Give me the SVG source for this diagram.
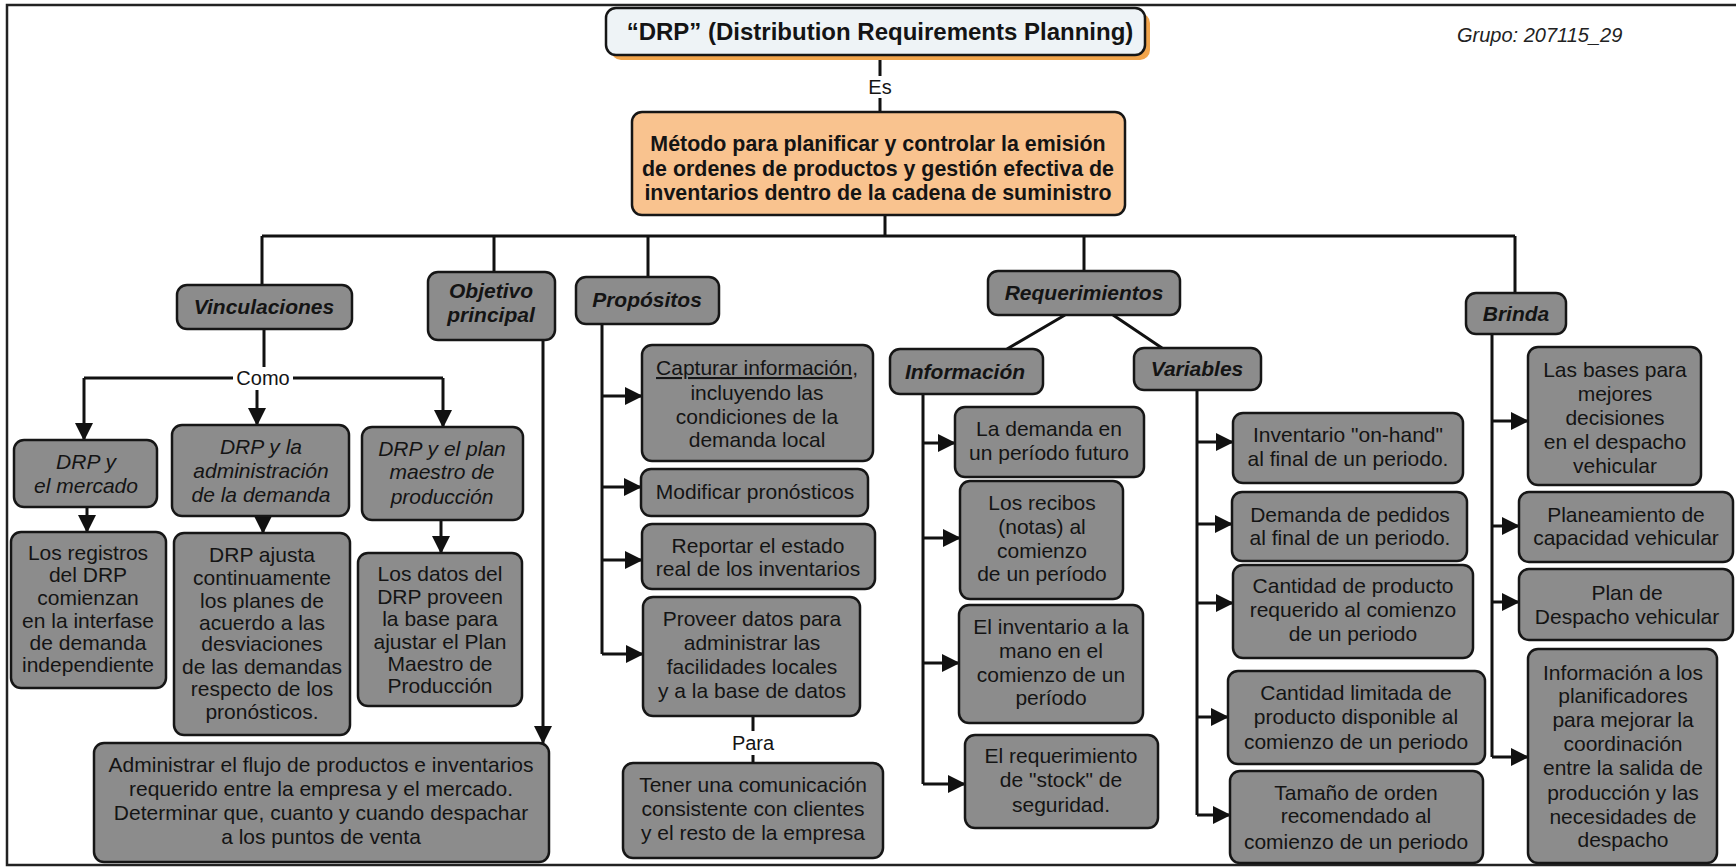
<svg xmlns="http://www.w3.org/2000/svg" width="1736" height="867" viewBox="0 0 1736 867">
  <style>
    .box { fill:#8c8c8c; stroke:#161616; stroke-width:2.5; }
    .t { font-family:"Liberation Sans", Arial, sans-serif; font-size:21px; fill:#141414; text-anchor:middle; }
    .h { font-weight:bold; font-style:italic; }
    .i { font-style:italic; }
    .m { font-weight:bold; font-size:21.4px; }
    .lbl { font-family:"Liberation Sans", Arial, sans-serif; font-size:20px; fill:#141414; text-anchor:middle; }
    .c { fill:none; stroke:#111; stroke-width:3; }
    .a { marker-end:url(#arr); }
  </style>
  <defs>
    <marker id="arr" viewBox="0 0 18 18" refX="17" refY="9" markerWidth="18" markerHeight="18" markerUnits="userSpaceOnUse" orient="auto">
      <path d="M0,0 L18,9 L0,18 z" fill="#111"/>
    </marker>
  </defs>

  <rect width="1736" height="867" fill="#fff"/>
  <!-- page frame -->
  <rect x="7" y="5" width="1740" height="860" fill="none" stroke="#222" stroke-width="2.5"/>

  <!-- connectors -->
  <g id="connectors">
    <path class="c" d="M880,60 V76 M880,98 V112"/>
    <path class="c" d="M885,215 V236 M262,236 H1515 M262,236 V285 M494,236 V272 M648,236 V277 M1084,236 V271 M1515,236 V293"/>
    <!-- Vinculaciones -->
    <path class="c" d="M264,329 V367 M233,378 H84 M293,378 H443"/>
    <path class="c a" d="M84,378 V440"/>
    <path class="c a" d="M443,378 V427"/>
    <path class="c a" d="M257,390 V425"/>
    <path class="c a" d="M87,507 V532"/>
    <path class="c a" d="M263,514 V533"/>
    <path class="c a" d="M441,520 V553"/>
    <!-- Objetivo principal -->
    <path class="c a" d="M543,340 V743"/>
    <!-- Propósitos -->
    <path class="c" d="M602,324 V654"/>
    <path class="c a" d="M602,396 H642"/>
    <path class="c a" d="M602,487 H641"/>
    <path class="c a" d="M602,560 H642"/>
    <path class="c a" d="M602,654 H643"/>
    <path class="c" d="M753,716 V731 M753,755 V763" stroke-width="2"/>
    <!-- Requerimientos -->
    <path class="c" d="M1065,315 L1007,349 M1113,315 L1162,348"/>
    <path class="c" d="M923,394 V784"/>
    <path class="c a" d="M923,443 H955"/>
    <path class="c a" d="M923,538 H960"/>
    <path class="c a" d="M923,663 H959"/>
    <path class="c a" d="M923,784 H965"/>
    <path class="c" d="M1197,390 V815"/>
    <path class="c a" d="M1197,442 H1233"/>
    <path class="c a" d="M1197,524 H1232"/>
    <path class="c a" d="M1197,603 H1233"/>
    <path class="c a" d="M1197,717 H1228"/>
    <path class="c a" d="M1197,815 H1230"/>
    <!-- Brinda -->
    <path class="c" d="M1492,334 V757"/>
    <path class="c a" d="M1492,421 H1528"/>
    <path class="c a" d="M1492,526 H1519"/>
    <path class="c a" d="M1492,602 H1519"/>
    <path class="c a" d="M1492,757 H1528"/>
    <!-- link labels -->
    <text class="lbl" x="880" y="94">Es</text>
    <text class="lbl" x="263" y="385">Como</text>
    <text class="lbl" x="753" y="750">Para</text>
  </g>

  <text class="t i" x="1457" y="42" style="text-anchor:start;font-size:20px;fill:#222">Grupo: 207115_29</text>

  <g id="n-drp">
    <rect x="611" y="13" width="539" height="47" rx="10" fill="#f2a54c"/>
    <rect x="606" y="8" width="539" height="47" rx="10" fill="#eef3f6" stroke="#161616" stroke-width="2.5"/>
    <text class="t" x="880" y="40" style="font-size:24px;font-weight:bold">“DRP” (Distribution Requirements Planning)</text>
  </g>

  <g id="n-metodo">
    <rect x="632" y="112" width="493" height="103" rx="10" fill="#f9c38f" stroke="#161616" stroke-width="2.5"/>
    <text class="t m" x="878" y="151">Método para planificar y controlar la emisión</text>
    <text class="t m" x="878" y="176">de ordenes de productos y gestión efectiva de</text>
    <text class="t m" x="878" y="200">inventarios dentro de la cadena de suministro</text>
  </g>

  <g id="n-vinculaciones">
    <rect class="box" x="177" y="285" width="175" height="44" rx="10"/>
    <text class="t h" x="264" y="314">Vinculaciones</text>
  </g>
  <g id="n-objetivo">
    <rect class="box" x="428" y="272" width="127" height="68" rx="10"/>
    <text class="t h" x="491" y="298">Objetivo</text>
    <text class="t h" x="491" y="322">principal</text>
  </g>
  <g id="n-propositos">
    <rect class="box" x="576" y="277" width="143" height="47" rx="10"/>
    <text class="t h" x="647" y="307">Propósitos</text>
  </g>
  <g id="n-requerimientos">
    <rect class="box" x="988" y="271" width="192" height="44" rx="10"/>
    <text class="t h" x="1084" y="300">Requerimientos</text>
  </g>
  <g id="n-informacion">
    <rect class="box" x="890" y="349" width="153" height="45" rx="10"/>
    <text class="t h" x="965" y="379">Información</text>
  </g>
  <g id="n-variables">
    <rect class="box" x="1134" y="348" width="127" height="42" rx="10"/>
    <text class="t h" x="1197" y="376">Variables</text>
  </g>
  <g id="n-brinda">
    <rect class="box" x="1466" y="293" width="100" height="41" rx="10"/>
    <text class="t h" x="1516" y="321">Brinda</text>
  </g>

  <!-- Vinculaciones branch -->
  <g id="n-mercado">
    <rect class="box" x="14" y="440" width="143" height="67" rx="10"/>
    <text class="t i" x="86" y="469">DRP y</text>
    <text class="t i" x="86" y="493">el mercado</text>
  </g>
  <g id="n-admin-demanda">
    <rect class="box" x="172" y="425" width="177" height="91" rx="10"/>
    <text class="t i" x="261" y="454">DRP y la</text>
    <text class="t i" x="261" y="478">administración</text>
    <text class="t i" x="261" y="502">de la demanda</text>
  </g>
  <g id="n-plan-maestro">
    <rect class="box" x="362" y="427" width="161" height="93" rx="10"/>
    <text class="t i" x="442" y="456">DRP y el plan</text>
    <text class="t i" x="442" y="479">maestro de</text>
    <text class="t i" x="442" y="504">producción</text>
  </g>
  <g id="n-registros">
    <rect class="box" x="11" y="532" width="155" height="156" rx="10"/>
    <text class="t" x="88" y="560">Los registros</text>
    <text class="t" x="88" y="582">del DRP</text>
    <text class="t" x="88" y="605">comienzan</text>
    <text class="t" x="88" y="628">en la interfase</text>
    <text class="t" x="88" y="650">de demanda</text>
    <text class="t" x="88" y="672">independiente</text>
  </g>
  <g id="n-ajusta">
    <rect class="box" x="174" y="533" width="176" height="202" rx="10"/>
    <text class="t" x="262" y="562">DRP ajusta</text>
    <text class="t" x="262" y="585">continuamente</text>
    <text class="t" x="262" y="608">los planes de</text>
    <text class="t" x="262" y="630">acuerdo a las</text>
    <text class="t" x="262" y="651">desviaciones</text>
    <text class="t" x="262" y="674">de las demandas</text>
    <text class="t" x="262" y="696">respecto de los</text>
    <text class="t" x="262" y="719">pronósticos.</text>
  </g>
  <g id="n-datos">
    <rect class="box" x="358" y="553" width="164" height="153" rx="10"/>
    <text class="t" x="440" y="581">Los datos del</text>
    <text class="t" x="440" y="604">DRP proveen</text>
    <text class="t" x="440" y="626">la base para</text>
    <text class="t" x="440" y="649">ajustar el Plan</text>
    <text class="t" x="440" y="671">Maestro de</text>
    <text class="t" x="440" y="693">Producción</text>
  </g>
  <g id="n-administrar">
    <rect class="box" x="94" y="743" width="455" height="119" rx="10"/>
    <text class="t" x="321" y="772">Administrar el flujo de productos e inventarios</text>
    <text class="t" x="321" y="796">requerido entre la empresa y el mercado.</text>
    <text class="t" x="321" y="820">Determinar que, cuanto y cuando despachar</text>
    <text class="t" x="321" y="844">a los puntos de venta</text>
  </g>

  <!-- Propósitos branch -->
  <g id="n-capturar">
    <rect class="box" x="642" y="345" width="231" height="116" rx="10"/>
    <text class="t" x="757" y="375"><tspan style="text-decoration:underline">Capturar información</tspan>,</text>
    <text class="t" x="757" y="400">incluyendo las</text>
    <text class="t" x="757" y="424">condiciones de la</text>
    <text class="t" x="757" y="447">demanda local</text>
  </g>
  <g id="n-modificar">
    <rect class="box" x="641" y="469" width="227" height="47" rx="10"/>
    <text class="t" x="755" y="499">Modificar pronósticos</text>
  </g>
  <g id="n-reportar">
    <rect class="box" x="642" y="524" width="233" height="65" rx="10"/>
    <text class="t" x="758" y="553">Reportar el estado</text>
    <text class="t" x="758" y="576">real de los inventarios</text>
  </g>
  <g id="n-proveer">
    <rect class="box" x="643" y="597" width="217" height="119" rx="10"/>
    <text class="t" x="752" y="626">Proveer datos para</text>
    <text class="t" x="752" y="650">administrar las</text>
    <text class="t" x="752" y="674">facilidades locales</text>
    <text class="t" x="752" y="698">y a la base de datos</text>
  </g>
  <g id="n-tener">
    <rect class="box" x="623" y="763" width="260" height="95" rx="10"/>
    <text class="t" x="753" y="792">Tener una comunicación</text>
    <text class="t" x="753" y="816">consistente con clientes</text>
    <text class="t" x="753" y="840">y el resto de la empresa</text>
  </g>

  <!-- Información branch -->
  <g id="n-demanda-futuro">
    <rect class="box" x="955" y="407" width="189" height="70" rx="10"/>
    <text class="t" x="1049" y="436">La demanda en</text>
    <text class="t" x="1049" y="460">un período futuro</text>
  </g>
  <g id="n-recibos">
    <rect class="box" x="960" y="481" width="163" height="118" rx="10"/>
    <text class="t" x="1042" y="510">Los recibos</text>
    <text class="t" x="1042" y="534">(notas) al</text>
    <text class="t" x="1042" y="558">comienzo</text>
    <text class="t" x="1042" y="581">de un período</text>
  </g>
  <g id="n-inventario-mano">
    <rect class="box" x="959" y="605" width="184" height="118" rx="10"/>
    <text class="t" x="1051" y="634">El inventario a la</text>
    <text class="t" x="1051" y="658">mano en el</text>
    <text class="t" x="1051" y="682">comienzo de un</text>
    <text class="t" x="1051" y="705">período</text>
  </g>
  <g id="n-stock">
    <rect class="box" x="965" y="735" width="193" height="93" rx="10"/>
    <text class="t" x="1061" y="763">El requerimiento</text>
    <text class="t" x="1061" y="787">de "stock" de</text>
    <text class="t" x="1061" y="812">seguridad.</text>
  </g>

  <!-- Variables branch -->
  <g id="n-on-hand">
    <rect class="box" x="1233" y="413" width="230" height="70" rx="10"/>
    <text class="t" x="1348" y="442">Inventario "on-hand"</text>
    <text class="t" x="1348" y="466">al final de un periodo.</text>
  </g>
  <g id="n-pedidos">
    <rect class="box" x="1232" y="492" width="235" height="69" rx="10"/>
    <text class="t" x="1350" y="522">Demanda de pedidos</text>
    <text class="t" x="1350" y="545">al final de un periodo.</text>
  </g>
  <g id="n-cantidad-requerida">
    <rect class="box" x="1233" y="565" width="240" height="93" rx="10"/>
    <text class="t" x="1353" y="593">Cantidad de producto</text>
    <text class="t" x="1353" y="617">requerido al comienzo</text>
    <text class="t" x="1353" y="641">de un periodo</text>
  </g>
  <g id="n-cantidad-limitada">
    <rect class="box" x="1228" y="671" width="257" height="93" rx="10"/>
    <text class="t" x="1356" y="700">Cantidad limitada de</text>
    <text class="t" x="1356" y="724">producto disponible al</text>
    <text class="t" x="1356" y="749">comienzo de un periodo</text>
  </g>
  <g id="n-tamano">
    <rect class="box" x="1230" y="771" width="253" height="92" rx="10"/>
    <text class="t" x="1356" y="800">Tamaño de orden</text>
    <text class="t" x="1356" y="823">recomendado al</text>
    <text class="t" x="1356" y="849">comienzo de un periodo</text>
  </g>

  <!-- Brinda branch -->
  <g id="n-bases">
    <rect class="box" x="1528" y="347" width="173" height="138" rx="10"/>
    <text class="t" x="1615" y="377">Las bases para</text>
    <text class="t" x="1615" y="401">mejores</text>
    <text class="t" x="1615" y="425">decisiones</text>
    <text class="t" x="1615" y="449">en el despacho</text>
    <text class="t" x="1615" y="473">vehicular</text>
  </g>
  <g id="n-planeamiento">
    <rect class="box" x="1519" y="492" width="214" height="70" rx="10"/>
    <text class="t" x="1626" y="522">Planeamiento de</text>
    <text class="t" x="1626" y="545">capacidad vehicular</text>
  </g>
  <g id="n-plan-despacho">
    <rect class="box" x="1519" y="569" width="214" height="71" rx="10"/>
    <text class="t" x="1627" y="600">Plan de</text>
    <text class="t" x="1627" y="624">Despacho vehicular</text>
  </g>
  <g id="n-info-planificadores">
    <rect class="box" x="1528" y="649" width="189" height="214" rx="10"/>
    <text class="t" x="1623" y="680">Información a los</text>
    <text class="t" x="1623" y="703">planificadores</text>
    <text class="t" x="1623" y="727">para mejorar la</text>
    <text class="t" x="1623" y="751">coordinación</text>
    <text class="t" x="1623" y="775">entre la salida de</text>
    <text class="t" x="1623" y="800">producción y las</text>
    <text class="t" x="1623" y="824">necesidades de</text>
    <text class="t" x="1623" y="847">despacho</text>
  </g>
</svg>
